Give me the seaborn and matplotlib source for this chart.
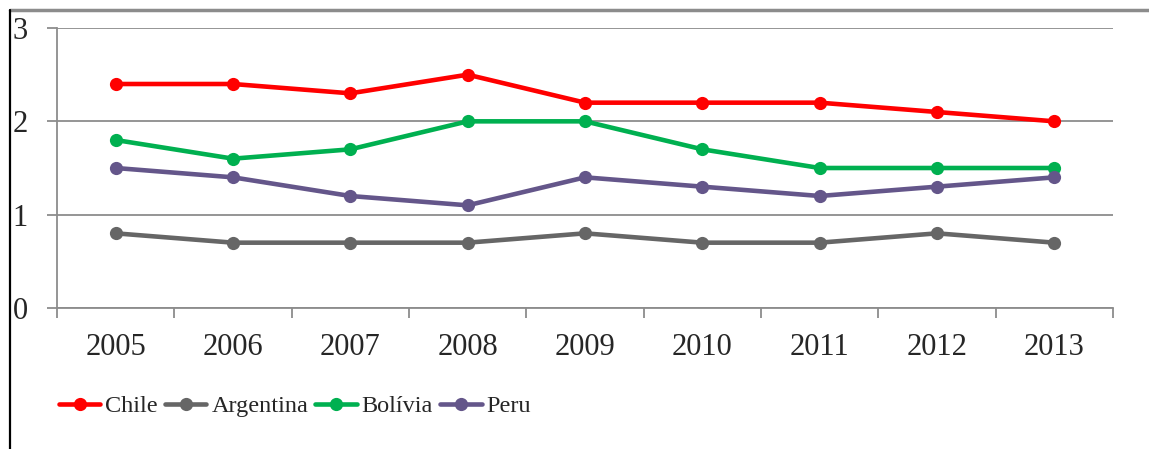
import numpy as np
import pandas as pd
import matplotlib.pyplot as plt
from matplotlib.lines import Line2D
import seaborn as sns

# ── Data ─────────────────────────────────────────────
years = ["2005", "2006", "2007", "2008", "2009", "2010", "2011", "2012", "2013"]
chile = [2.4, 2.4, 2.3, 2.5, 2.2, 2.2, 2.2, 2.1, 2.0]
argentina = [0.8, 0.7, 0.7, 0.7, 0.8, 0.7, 0.7, 0.8, 0.7]
bolivia = [1.8, 1.6, 1.7, 2.0, 2.0, 1.7, 1.5, 1.5, 1.5]
peru = [1.5, 1.4, 1.2, 1.1, 1.4, 1.3, 1.2, 1.3, 1.4]
countries = ["Chile", "Argentina", "Bolívia", "Peru"]
colors = ["#FF0000", "#666666", "#00B050", "#64568A"]

df = pd.DataFrame({"ano": years * 4,
                   "pais": np.repeat(countries, len(years)),
                   "valor": chile + argentina + bolivia + peru})
df["pos"] = df["ano"].map({y: i for i, y in enumerate(years)})

sns.set_theme(style="white")
plt.rcParams["font.family"] = ["Liberation Serif", "DejaVu Serif"]

fig = plt.figure(figsize=(11.49, 4.49), dpi=100)
ax = fig.add_axes([57 / 1149, 1 - 308 / 449, (1113 - 57) / 1149, (308 - 28) / 449])

sns.lineplot(data=df, x="pos", y="valor", hue="pais", hue_order=countries,
             palette=colors, marker="o", markersize=9.5, markeredgewidth=0,
             linewidth=3.3, ax=ax, legend=True)

ax.set_xlim(-0.5, len(years) - 0.5)
ax.set_ylim(0, 3)
ax.set_yticks([0, 1, 2, 3])
ax.yaxis.grid(True, color="#8C8C8C", linewidth=1.3)
ax.set_axisbelow(True)

# category boundaries get the tick marks, labels sit in the middle
ax.set_xticks(np.arange(-0.5, len(years), 1.0))
ax.set_xticklabels([])
ax.set_xticks(np.arange(len(years)), minor=True)
ax.set_xticklabels(years, minor=True)
ax.tick_params(axis="x", which="major", length=7, width=1.3, color="#8C8C8C", direction="out", bottom=True)
ax.tick_params(axis="x", which="minor", length=0, pad=18, labelsize=22)
ax.tick_params(axis="y", length=7, width=1.3, color="#8C8C8C", direction="out", left=True,
               pad=14, labelsize=22)

ax.set_xlabel("")
ax.set_ylabel("")
for side in ["top", "right"]:
    ax.spines[side].set_visible(False)
for side in ["left", "bottom"]:
    ax.spines[side].set_color("#8C8C8C")
    ax.spines[side].set_linewidth(1.3)

handles, labels = ax.get_legend_handles_labels()
ax.legend(handles, labels, loc="center left", bbox_to_anchor=(59 / 1149, 1 - 406 / 449),
          bbox_transform=fig.transFigure, ncol=4, frameon=False, fontsize=17.5,
          handlelength=1.7, handletextpad=0.2, columnspacing=0.3, borderaxespad=0,
          borderpad=0)

# frame fragments of the original page
fig.add_artist(Line2D([10 / 1149, 1], [1 - 10 / 449, 1 - 10 / 449], color="#8C8C8C", linewidth=2.5))
fig.add_artist(Line2D([10 / 1149, 10 / 1149], [0, 1 - 10 / 449], color="black", linewidth=1.6))

fig.savefig("out.png", dpi=100)
